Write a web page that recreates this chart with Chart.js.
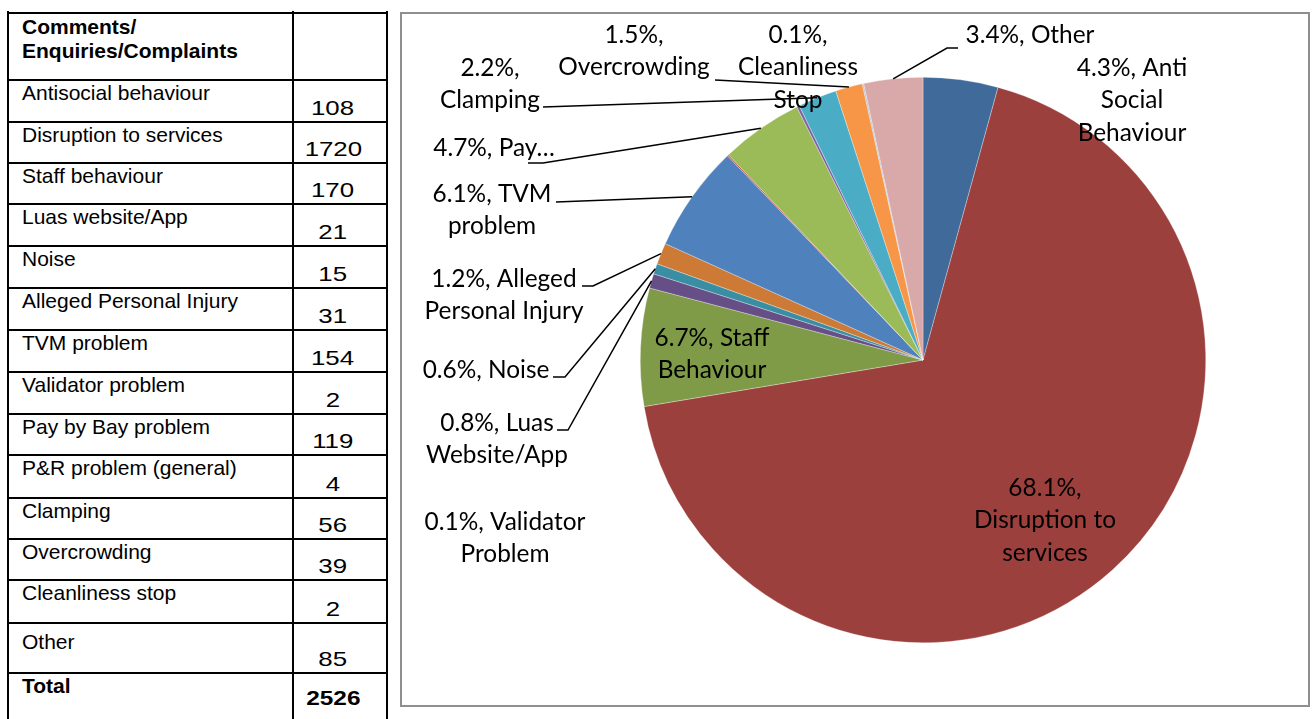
<!DOCTYPE html>
<html>
<head>
<meta charset="utf-8">
<script src="https://cdn.jsdelivr.net/npm/chart.js@4.4.0/dist/chart.umd.min.js"></script>
<style>
body { margin:0; background:#fff; width:1312px; height:719px; overflow:hidden; position:relative; font-family:"Liberation Sans", Arial, sans-serif; }
.row { position:absolute; left:8px; width:380px; border-top:2px solid #000; box-sizing:border-box; }
.lbl { position:absolute; left:14px; top:0; font-size:21px; line-height:24px; white-space:nowrap; }
.val { position:absolute; left:285px; width:80px; bottom:1px; text-align:center; font-size:21px; line-height:24px; }
.val span { display:inline-block; transform:scaleX(1.23); }
.b { font-weight:bold; }
.vline { position:absolute; top:11px; height:712px; width:2px; background:#000; }
#box { position:absolute; left:400px; top:12px; width:910px; height:695px; border:2px solid #8f8f8f; box-sizing:border-box; }
#box canvas { position:absolute; left:0; top:0; }
</style>
</head>
<body>
<div id="tbl"></div>
<div id="box"><canvas id="myChart" width="906" height="691"></canvas></div>
<script>
// table rows
var categories = ["Antisocial behaviour", "Disruption to services", "Staff behaviour", "Luas website/App", "Noise",
    "Alleged Personal Injury", "TVM problem", "Validator problem", "Pay by Bay problem", "P&R problem (general)",
    "Clamping", "Overcrowding", "Cleanliness stop", "Other"];
var counts = [108, 1720, 170, 21, 15, 31, 154, 2, 119, 4, 56, 39, 2, 85];

// pie slice names (as written on the chart)
var pieNames = ["Anti Social Behaviour", "Disruption to services", "Staff Behaviour", "Luas Website/App", "Noise",
    "Alleged Personal Injury", "TVM problem", "Validator Problem", "Pay\u2026", "P&R problem",
    "Clamping", "Overcrowding", "Cleanliness Stop", "Other"];
var colors = ["#3F6A9A", "#9C403E", "#7F9B48", "#664F87", "#3A8EA3", "#CC7A35", "#4F81BD",
    "#C0504D", "#9BBB59", "#8064A2", "#4BACC6", "#F79646", "#A7C0DE", "#D9A8A8"];

// label placement (canvas px): x centre, first line y, words per line, leader elbow points
var labelLayout = [
    { x: 730, y: 54, breaks: [2, 1, 1] },
    { x: 643, y: 474, breaks: [1, 2, 1] },
    { x: 310, y: 324, breaks: [2, 1] },
    { x: 95, y: 409, breaks: [2, 1], leader: [[155, 416], [166, 416]] },
    { x: 84, y: 356, breaks: [2], leader: [[151, 363], [163, 363]] },
    { x: 102, y: 265, breaks: [2, 2], leader: [[180, 272], [191, 272]] },
    { x: 90, y: 180, breaks: [2, 1], leader: [[154, 188]] },
    { x: 103, y: 508, breaks: [2, 1] },
    { x: 92, y: 134, breaks: [2], leader: [[126, 149], [141, 149]] },
    null,
    { x: 88, y: 54, breaks: [1, 1], leader: [[141, 93]] },
    { x: 232, y: 21, breaks: [1, 1], leader: [[313, 66]] },
    { x: 396, y: 21, breaks: [1, 1, 1] },
    { x: 628, y: 21, breaks: [2], leader: [[556, 34], [545, 34]] }
];

function buildTable() {
    var tbl = document.getElementById('tbl');
    var heights = [42, 41, 41, 42, 42, 42, 42, 42, 41, 43, 41, 41, 43, 50];
    var html = '';
    var top = 12;
    html += '<div class="row" style="top:' + top + 'px;height:67px"><div class="lbl b" style="top:1px">Comments/<br>Enquiries/Complaints</div></div>';
    top += 67;
    var total = 0;
    for (var i = 0; i < categories.length; i++) {
        var h = heights[i];
        var pad = (i == categories.length - 1) ? 6 : 0;
        html += '<div class="row" style="top:' + top + 'px;height:' + h + 'px"><div class="lbl" style="top:' + pad + 'px">' +
            categories[i].replace('&', '&amp;') + '</div><div class="val"><span>' + counts[i] + '</span></div></div>';
        top += h;
        total += counts[i];
    }
    html += '<div class="row" style="top:' + top + 'px;height:50px"><div class="lbl b">Total</div><div class="val b" style="bottom:12px"><span style="transform:scaleX(1.16)">' + total + '</span></div></div>';
    html += '<div class="vline" style="left:7px"></div><div class="vline" style="left:292px"></div><div class="vline" style="left:386px"></div>';
    tbl.innerHTML = html;
}

var pieLabels = {
    id: 'pieLabels',
    afterDatasetsDraw: function(chart) {
        var ctx = chart.ctx;
        var meta = chart.getDatasetMeta(0);
        var data = chart.data.datasets[0].data;
        var sum = data.reduce(function(a, b) { return a + b; }, 0);
        ctx.save();
        // leader lines
        ctx.strokeStyle = '#000';
        ctx.lineWidth = 1.5;
        for (var i = 0; i < data.length; i++) {
            var lay = labelLayout[i];
            if (!lay || !lay.leader) continue;
            var arc = meta.data[i];
            var mid = (arc.startAngle + arc.endAngle) / 2;
            ctx.beginPath();
            ctx.moveTo(lay.leader[0][0], lay.leader[0][1]);
            for (var k = 1; k < lay.leader.length; k++) ctx.lineTo(lay.leader[k][0], lay.leader[k][1]);
            ctx.lineTo(arc.x + Math.cos(mid) * arc.outerRadius, arc.y + Math.sin(mid) * arc.outerRadius);
            ctx.stroke();
        }
        // texts
        ctx.fillStyle = '#000';
        ctx.font = '24.4px Lato';
        ctx.textAlign = 'center';
        ctx.textBaseline = 'middle';
        for (var i = 0; i < data.length; i++) {
            var lay = labelLayout[i];
            if (!lay) continue;
            var pct = (data[i] / sum * 100).toFixed(1) + '%,';
            var words = [pct].concat(chart.data.labels[i].split(' '));
            var w = 0;
            for (var l = 0; l < lay.breaks.length; l++) {
                var line = words.slice(w, w + lay.breaks[l]).join(' ');
                w += lay.breaks[l];
                ctx.fillText(line, lay.x, lay.y + l * 32.5);
            }
        }
        ctx.restore();
    }
};

function graph() {
    var ctx = document.getElementById('myChart').getContext('2d');
    var myChart = new Chart(ctx, {
        type: 'pie',
        data: {
            labels: pieNames,
            datasets: [{
                data: counts,
                backgroundColor: colors,
                borderColor: 'rgba(255,255,255,0.6)',
                borderWidth: 0.5
            }]
        },
        options: {
            responsive: false,
            animation: false,
            layout: { padding: { left: 238, top: 63, right: 102, bottom: 62 } },
            plugins: {
                legend: { display: false },
                tooltip: { enabled: false }
            }
        },
        plugins: [pieLabels]
    });
}

window.onload = function() {
    buildTable();
    graph();
}
</script>
</body>
</html>
